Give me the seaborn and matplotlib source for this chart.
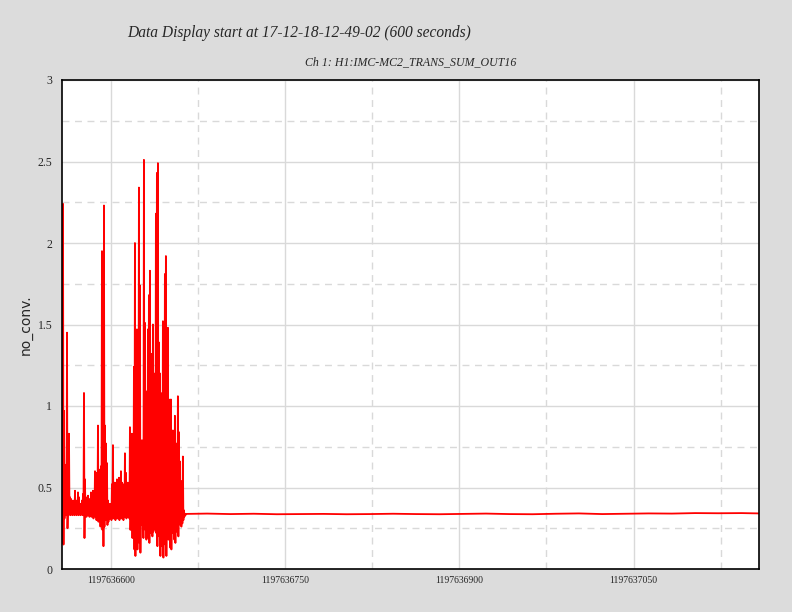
import numpy as np
import pandas as pd
import matplotlib
matplotlib.use("Agg")
import matplotlib.pyplot as plt
from matplotlib.ticker import FixedLocator, FixedFormatter
import seaborn as sns

# GPS start of the 600 s window
t_start = 1197636558
span = 600
sample_dt = 0.86  # spacing of the peak/trough pairs in the noisy part

# noisy section: per-sample upper and lower excursions
noisy_hi = [1.18, 2.24, 0.97, 0.55, 0.64, 1.45, 0.46, 0.83, 0.44, 0.43,
            0.40, 0.42, 0.37, 0.48, 0.42, 0.40, 0.47, 0.44, 0.38, 0.40,
            0.42, 0.46, 1.08, 0.55, 0.44, 0.42, 0.45, 0.40, 0.43, 0.47,
            0.44, 0.48, 0.40, 0.60, 0.59, 0.42, 0.88, 0.55, 0.61, 0.63,
            1.95, 1.51, 2.23, 0.88, 0.77, 0.65, 0.42, 0.38, 0.40, 0.38,
            0.52, 0.76, 0.44, 0.53, 0.48, 0.55, 0.50, 0.56, 0.42, 0.60,
            0.53, 0.49, 0.52, 0.71, 0.59, 0.48, 0.53, 0.52, 0.87, 0.42,
            0.83, 0.79, 1.24, 2.00, 1.45, 1.47, 0.87, 2.34, 1.74, 0.53,
            0.79, 0.78, 2.51, 1.51, 0.98, 1.09, 1.47, 1.68, 1.83, 1.06,
            1.32, 1.50, 1.20, 0.90, 2.18, 2.43, 2.49, 1.39, 1.20, 1.08,
            1.03, 1.52, 0.85, 1.81, 1.92, 1.06, 1.48, 1.04, 0.85, 1.04,
            0.80, 0.85, 0.45, 0.94, 0.71, 0.77, 1.06, 0.84, 0.66, 0.41,
            0.54, 0.69, 0.36, 0.34]
noisy_lo = [0.16, 0.15, 0.31, 0.33, 0.33, 0.25, 0.33, 0.34, 0.33, 0.34,
            0.33, 0.34, 0.33, 0.34, 0.33, 0.34, 0.33, 0.34, 0.33, 0.34,
            0.33, 0.33, 0.19, 0.33, 0.32, 0.33, 0.34, 0.32, 0.33, 0.32,
            0.33, 0.31, 0.33, 0.32, 0.30, 0.32, 0.29, 0.32, 0.26, 0.29,
            0.24, 0.14, 0.26, 0.30, 0.32, 0.27, 0.29, 0.31, 0.32, 0.30,
            0.32, 0.31, 0.33, 0.30, 0.32, 0.31, 0.32, 0.30, 0.33, 0.31,
            0.32, 0.30, 0.32, 0.33, 0.31, 0.32, 0.33, 0.31, 0.24, 0.32,
            0.19, 0.28, 0.12, 0.08, 0.22, 0.12, 0.25, 0.16, 0.10, 0.27,
            0.30, 0.19, 0.28, 0.24, 0.18, 0.26, 0.19, 0.16, 0.22, 0.27,
            0.20, 0.23, 0.28, 0.24, 0.22, 0.14, 0.22, 0.20, 0.08, 0.14,
            0.22, 0.07, 0.25, 0.15, 0.08, 0.20, 0.18, 0.25, 0.13, 0.12,
            0.22, 0.28, 0.18, 0.16, 0.23, 0.26, 0.20, 0.29, 0.27, 0.26,
            0.28, 0.30, 0.32, 0.33]

# quiet section after the lock: nearly flat level
flat_t = [107, 125, 145, 165, 185, 205, 225, 245, 265, 285, 305, 325, 345,
          365, 385, 405, 425, 445, 465, 485, 505, 525, 545, 565, 585, 600]
flat_v = [0.338, 0.340, 0.337, 0.339, 0.336, 0.337, 0.338, 0.336, 0.337,
          0.339, 0.337, 0.336, 0.338, 0.340, 0.337, 0.336, 0.339, 0.341,
          0.337, 0.339, 0.341, 0.340, 0.343, 0.342, 0.343, 0.341]

x_ticks = [1197636600, 1197636750, 1197636900, 1197637050]
x_minor = [1197636675, 1197636825, 1197636975, 1197637125]
y_ticks = [0, 0.5, 1, 1.5, 2, 2.5, 3]
y_labels = ["0", "0.5", "1", "1.5", "2", "2.5", "3"]
y_minor = [0.25, 0.75, 1.25, 1.75, 2.25, 2.75]

# build the trace: each noisy sample goes up to hi then down to lo
t_list, v_list = [], []
for i, (h, l) in enumerate(zip(noisy_hi, noisy_lo)):
    t_list += [i * sample_dt, i * sample_dt + sample_dt / 2]
    v_list += [h, l]
t_list += flat_t
v_list += flat_v
df = pd.DataFrame({"t": np.array(t_list) + t_start, "v": v_list})

sns.set_style("white")
plt.rcParams["font.family"] = ["Liberation Serif", "DejaVu Serif"]

fig = plt.figure(figsize=(7.92, 6.12), dpi=100)
fig.patch.set_facecolor("#dcdcdc")
ax = fig.add_axes([62 / 792, 43 / 612, 697 / 792, 489 / 612])
ax.set_facecolor("white")

sns.lineplot(data=df, x="t", y="v", ax=ax, estimator=None, sort=False,
             color="#ff0000", lw=1.3)

ax.set_xlim(t_start, t_start + span)
ax.set_ylim(0, 3)
ax.xaxis.set_major_locator(FixedLocator(x_ticks))
ax.xaxis.set_major_formatter(FixedFormatter([str(x) for x in x_ticks]))
ax.xaxis.set_minor_locator(FixedLocator(x_minor))
ax.yaxis.set_major_locator(FixedLocator(y_ticks))
ax.yaxis.set_major_formatter(FixedFormatter(y_labels))
ax.yaxis.set_minor_locator(FixedLocator(y_minor))
ax.tick_params(axis="x", labelsize=7)
ax.tick_params(axis="y", labelsize=8.5)
ax.grid(which="major", color="#d9d9d9", lw=1.0, ls="-")
ax.grid(which="minor", color="#d9d9d9", lw=1.0, ls=(0, (5, 4)))
ax.set_axisbelow(True)
ax.tick_params(axis="x", which="both", length=0, pad=5)
ax.tick_params(axis="y", which="major", length=3, color="#a0a0a0", pad=4)
ax.tick_params(axis="y", which="minor", length=0)
for s in ax.spines.values():
    s.set_color("black")
    s.set_linewidth(1.2)

ax.set_xlabel("")
ax.set_ylabel("no_conv.", fontsize=10, family=["DejaVu Sans"], labelpad=3)

fig.text(127 / 792, 1 - 33 / 612, "Data Display start at 17-12-18-12-49-02 (600 seconds)",
         fontsize=11.2, style="italic", va="center", ha="left")
fig.text(305 / 792, 1 - 62 / 612, "Ch 1: H1:IMC-MC2_TRANS_SUM_OUT16",
         fontsize=8.6, style="italic", va="center", ha="left")

fig.savefig("out.png", dpi=100, facecolor=fig.get_facecolor())
